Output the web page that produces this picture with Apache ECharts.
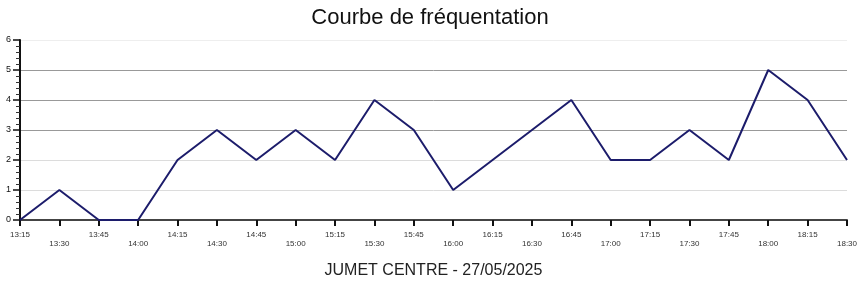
<!DOCTYPE html>
<html><head><meta charset="utf-8">
<script src="https://cdn.jsdelivr.net/npm/echarts@6/dist/echarts.min.js"></script>
<style>html,body{margin:0;padding:0;background:#fff}#c{width:860px;height:284px}</style>
</head><body><div id="c"></div>
<script>
const categories = ['13:15','13:30','13:45','14:00','14:15','14:30','14:45','15:00','15:15','15:30','15:45','16:00','16:15','16:30','16:45','17:00','17:15','17:30','17:45','18:00','18:15','18:30'];
const visits = [0,1,0,0,2,3,2,3,2,4,3,1,2,3,4,2,2,3,2,5,4,2];
const yTicks = [0,1,2,3,4,5,6];
const chartTitle = 'Courbe de fréquentation';
const xTitle = 'JUMET CENTRE - 27/05/2025';

const chart = echarts.init(document.getElementById('c'), null, {renderer:'canvas'});
chart.setOption({
  animation:false,
  backgroundColor:'#fff',
  textStyle:{fontFamily:'Liberation Sans, Arial, sans-serif'},
  title:{text:chartTitle,left:'center',top:2,textStyle:{fontSize:22,fontWeight:'normal',color:'#111',fontFamily:'Liberation Sans, Arial, sans-serif'}},
  grid:{left:20,right:9,top:40,bottom:62,containLabel:false},
  xAxis:{
    type:'category',data:categories,boundaryGap:false,
    name:xTitle,nameLocation:'middle',nameGap:43,
    nameTextStyle:{fontSize:16,color:'#222',fontFamily:'Liberation Sans, Arial, sans-serif'},
    axisLine:{lineStyle:{color:'#444',width:2}},
    axisTick:{show:true,length:6,lineStyle:{color:'#111',width:2},interval:0},
    axisLabel:{interval:0,fontSize:8,color:'#333',margin:10,lineHeight:9,
      formatter:function(v,i){return i%2===1?'\n'+v:v;}},
    splitLine:{show:false}
  },
  yAxis:{
    type:'value',min:yTicks[0],max:yTicks[yTicks.length-1],interval:1,
    axisLine:{show:true,lineStyle:{color:'#111',width:2}},
    axisTick:{show:true,length:7,lineStyle:{color:'#111',width:1.5}},
    minorTick:{show:true,splitNumber:5,length:4,lineStyle:{color:'#333',width:1}},
    axisLabel:{fontSize:9,color:'#111',margin:9},
    splitLine:{show:true,lineStyle:{color:['#e6e6e6','#dcdcdc','#dcdcdc','#999','#999','#999','#eeeeee'],width:1}}
  },
  series:[{
    type:'line',data:visits,showSymbol:false,symbol:'none',
    lineStyle:{color:'#1c1c6b',width:2},
    itemStyle:{color:'#1c1c6b'}
  }]
});
</script></body></html>
